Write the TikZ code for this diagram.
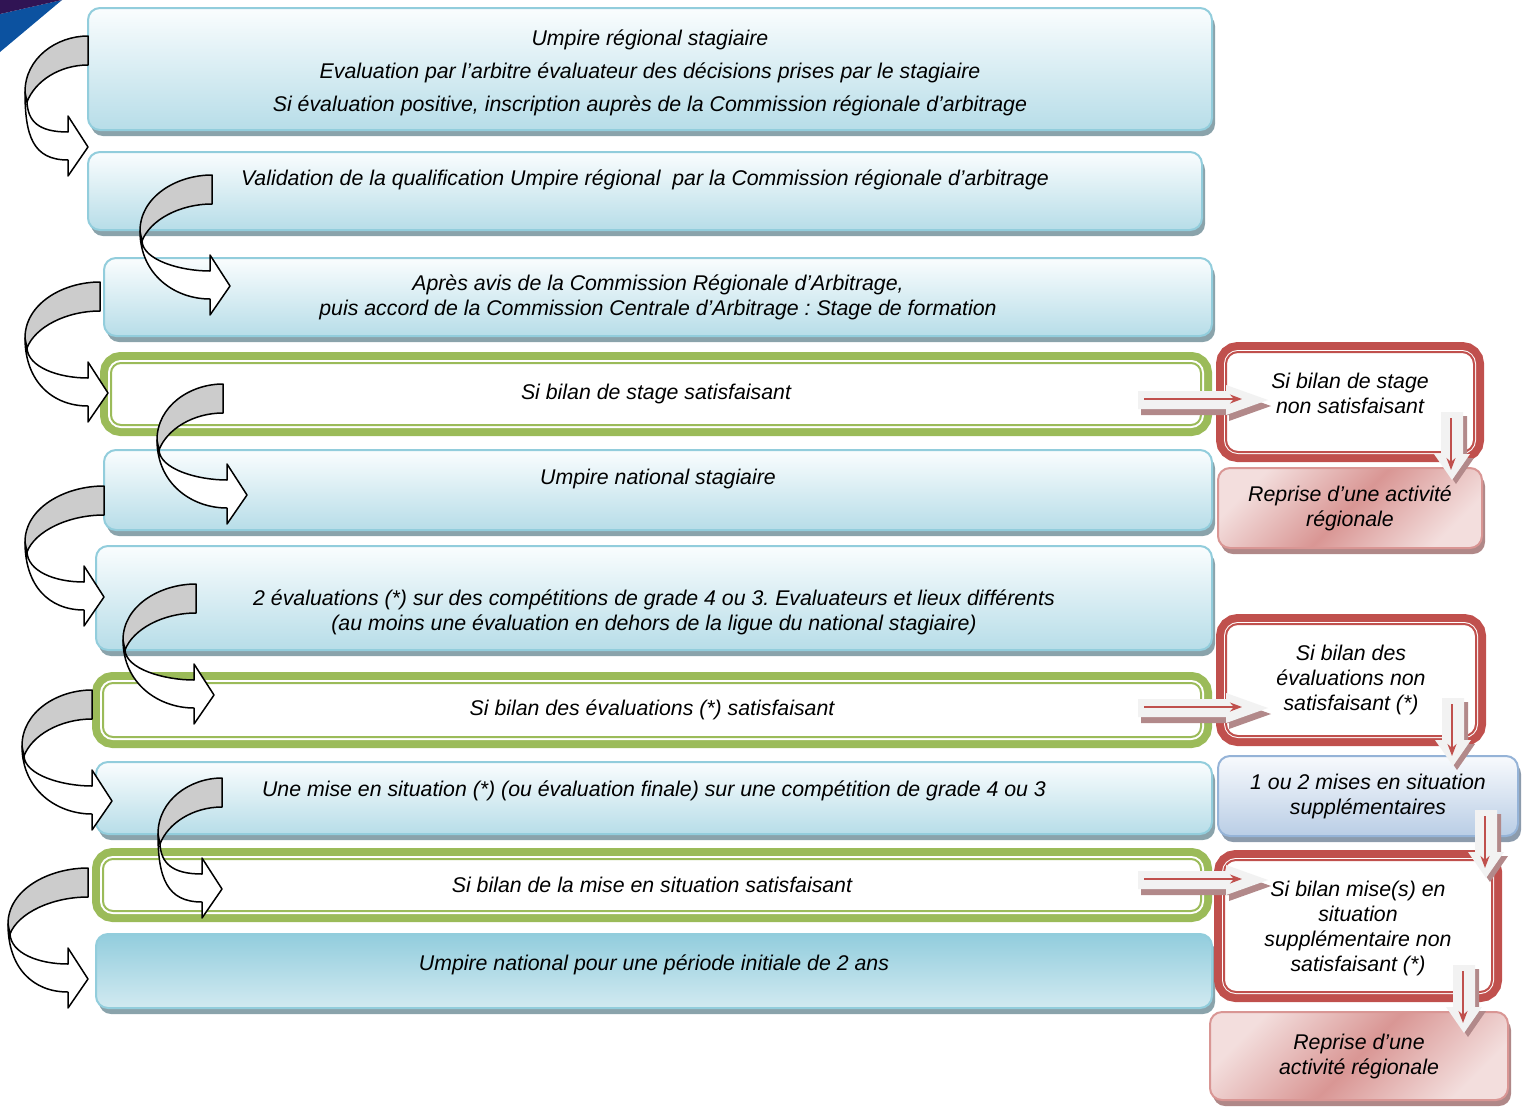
\documentclass[tikz,border=0pt]{standalone}
\usepackage{fontspec}
\setmainfont{Liberation Sans}
\usepackage{tikz}
\usetikzlibrary{arrows.meta, shadows}
\usepackage{xcolor}
\frenchspacing
\definecolor{bluetop}{RGB}{250,253,254}
\definecolor{bluebottom}{RGB}{183,221,232}
\definecolor{bluedeep}{RGB}{146,205,221}
\definecolor{blueline}{RGB}{146,205,220}
\definecolor{blueshadow}{RGB}{138,163,171}
\definecolor{greenline}{RGB}{155,187,89}
\definecolor{redline}{RGB}{192,80,77}
\definecolor{pinklight}{RGB}{243,222,221}
\definecolor{pinkdark}{RGB}{217,150,148}
\definecolor{pinkshadow}{RGB}{176,136,136}
\definecolor{lavtop}{RGB}{248,250,253}
\definecolor{lavbottom}{RGB}{185,205,229}
\definecolor{lavline}{RGB}{149,179,215}
\definecolor{lavshadow}{RGB}{140,155,172}
\definecolor{arrowgray}{RGB}{242,242,242}
\definecolor{arrowshadow}{RGB}{178,137,138}
\definecolor{curvegray}{RGB}{204,204,204}
\definecolor{cornerpurple}{RGB}{48,20,84}
\definecolor{cornerblue}{RGB}{12,82,160}
\tikzset{boxtext/.style={font=\fontsize{21.3}{25}\selectfont\itshape, align=center, inner sep=0pt, outer sep=0pt},bluestepnode/.style={boxtext, rectangle, rounded corners=12pt, draw=blueline, line width=2pt, top color=bluetop, bottom color=bluebottom, drop shadow={shadow xshift=3pt, shadow yshift=-6pt, fill=blueshadow, opacity=1}}}
\tikzset{greenchecknode/.style={boxtext, rectangle, rounded corners=10pt, fill=white, draw=white, line width=6pt, preaction={draw=greenline, line width=22pt}, postaction={draw=greenline, line width=2pt}},redfailnode/.style={boxtext, rectangle, rounded corners=12pt, fill=white, draw=white, line width=4pt, preaction={draw=redline, line width=20pt}, postaction={draw=redline, line width=2pt}}}

\begin{document}
\begin{tikzpicture}[
        x=1pt, y=-1pt,
        bluelastnode/.style={bluestepnode, top color=bluedeep, bottom color=bluetop!40!bluebottom},
        pinkresultnode/.style={boxtext, rectangle, rounded corners=12pt, draw=pinkdark, line width=2pt, top color=pinklight, bottom color=pinklight, middle color=pinkdark, shading angle=45, drop shadow={shadow xshift=3pt, shadow yshift=-6pt, fill=pinkshadow, opacity=1}},
        lavextranode/.style={boxtext, rectangle, rounded corners=12pt, draw=lavline, line width=2pt, top color=lavtop, bottom color=lavbottom, drop shadow={shadow xshift=3pt, shadow yshift=-6pt, fill=lavshadow, opacity=1}},
        pics/curvarrow/.style 2 args={code={
            \draw[line width=1.5pt, line join=round, fill=white] (-#1,56) .. controls (-#1,100) and ({#2-55},124) .. ({#2-20},124) -- ({#2-20},140) -- (#2,111) -- ({#2-20},80) -- ({#2-20},96) .. controls ({#2-50},96) and ({-#1+3},85) .. ({-#1+2},66) -- cycle;
            \draw[line width=1.5pt, line join=round, fill=curvegray] (0,0) .. controls ({-0.5*#1},0) and (-#1,22) .. (-#1,56) -- ({-#1+2},66) .. controls ({-#1+10},45) and ({-0.45*#1},29) .. (0,29) -- cycle;
        }},
        pics/rightblock/.style={code={
            \fill[arrowshadow, shift={(3,6)}] (0,-9) -- (88,-9) -- (88,-15) -- (130,0) -- (88,15) -- (88,9) -- (0,9) -- cycle;
            \fill[arrowgray] (0,-9) -- (88,-9) -- (88,-15) -- (130,0) -- (88,15) -- (88,9) -- (0,9) -- cycle;
            \draw[redline, line width=1.5pt, -{Stealth[length=12pt, width=9pt]}] (6,-1) -- (104,-1);
        }},
        pics/downblock/.style={code={
            \fill[arrowshadow, shift={(4,4)}] (-11,0) -- (11,0) -- (11,42) -- (18,42) -- (0,68) -- (-18,42) -- (-11,42) -- cycle;
            \fill[arrowgray] (-11,0) -- (11,0) -- (11,42) -- (18,42) -- (0,68) -- (-18,42) -- (-11,42) -- cycle;
            \draw[redline, line width=1.5pt, -{Stealth[length=12pt, width=9pt]}] (-1,6) -- (-1,58);
        }}
    ]
        \useasboundingbox (0,0) rectangle (1523,1106);
        % Corner
        \fill[cornerblue] (0,14) -- (62,0) -- (0,52) -- cycle;
        \fill[cornerpurple] (0,0) -- (62,0) -- (0,14) -- cycle;
        % Steps
        \node[bluestepnode, minimum width=1124pt, minimum height=122pt, font=\fontsize{21.3}{33}\selectfont\itshape] (b1) at (650,69) {\raisebox{-3pt}[\height][\depth]{\begin{tabular}{@{}c@{}}Umpire régional stagiaire\\Evaluation par l’arbitre évaluateur des décisions prises par le stagiaire\\Si évaluation positive, inscription auprès de la Commission régionale d’arbitrage\end{tabular}}};
        \node[bluestepnode, minimum width=1114pt, minimum height=78pt] (b2) at (645,191) {\raisebox{11pt}[\height][\depth]{Validation de la qualification Umpire régional\ \ par la Commission régionale d’arbitrage}};
        \node[bluestepnode, minimum width=1108pt, minimum height=78pt] (b3) at (658,297) {Après avis de la Commission Régionale d’Arbitrage,\\puis accord de la Commission Centrale d’Arbitrage : Stage de formation};
        \node[greenchecknode, minimum width=1090pt, minimum height=62pt] (g1) at (656,394) {Si bilan de stage satisfaisant};
        \node[bluestepnode, minimum width=1108pt, minimum height=80pt] (b4) at (658,490) {\raisebox{11pt}[\height][\depth]{Umpire national stagiaire}};
        \node[bluestepnode, minimum width=1116pt, minimum height=104pt] (b5) at (654,598) {\raisebox{-15pt}[\height][\depth]{\begin{tabular}{@{}c@{}}2 évaluations (*) sur des compétitions de grade 4 ou 3. Evaluateurs et lieux différents\\(au moins une évaluation en dehors de la ligue du national stagiaire)\end{tabular}}};
        \node[greenchecknode, minimum width=1098pt, minimum height=54pt] (g2) at (652,710) {Si bilan des évaluations (*) satisfaisant};
        \node[bluestepnode, minimum width=1116pt, minimum height=72pt] (b6) at (654,798) {\raisebox{7pt}[\height][\depth]{Une mise en situation (*) (ou évaluation finale) sur une compétition de grade 4 ou 3}};
        \node[greenchecknode, minimum width=1098pt, minimum height=52pt] (g3) at (652,885) {Si bilan de la mise en situation satisfaisant};
        \node[bluelastnode, minimum width=1116pt, minimum height=74pt] (b7) at (654,971) {\raisebox{6pt}[\height][\depth]{Umpire national pour une période initiale de 2 ans}};
        % Failures
        \node[redfailnode, minimum width=248pt, minimum height=100pt] (r1) at (1350,402) {\raisebox{6pt}[\height][\depth]{\begin{tabular}{@{}c@{}}Si bilan de stage\\non satisfaisant\end{tabular}}};
        \node[pinkresultnode, minimum width=264pt, minimum height=80pt] (p1) at (1350,508) {Reprise d’une activité\\régionale};
        \node[redfailnode, minimum width=250pt, minimum height=112pt] (r2) at (1351,680) {Si bilan des\\évaluations non\\satisfaisant (*)};
        \node[lavextranode, minimum width=300pt, minimum height=80pt] (lb) at (1368,796) {1 ou 2 mises en situation\\supplémentaires};
        \node[redfailnode, minimum width=268pt, minimum height=132pt] (r3) at (1358,926) {\raisebox{-3pt}[\height][\depth]{\begin{tabular}{@{}c@{}}Si bilan mise(s) en\\situation\\supplémentaire non\\satisfaisant (*)\end{tabular}}};
        \node[pinkresultnode, minimum width=298pt, minimum height=88pt] (p2) at (1359,1056) {Reprise d’une\\activité régionale};
        % Curved arrows
        \foreach \sx/\sy/\w/\d in {88/36/63/0, 212/175/72/18, 100/282/75/8, 223/384/66/24, 104/486/79/0, 196/584/73/18, 92/690/70/20, 222/778/64/0, 88/868/80/0}
            \pic at (\sx,\sy) {curvarrow={\w}{\d}};
        % Block arrows
        \foreach \src/\dy in {g1/6, g2/-2, g3/-5}
            \pic at ([shift={(-63,\dy)}]\src.east) {rightblock};
        \foreach \src/\dx/\dy in {r1/-22/-40, r2/-23/-38, lb/-32/-26, r3/-28/-27}
            \pic at ([shift={(\dx,\dy)}]\src.south east) {downblock};
    \end{tikzpicture}
\end{document}
